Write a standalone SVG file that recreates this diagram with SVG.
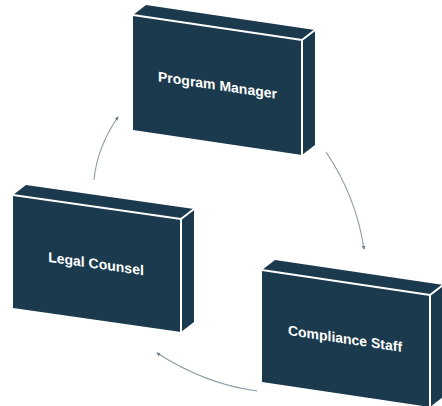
<svg xmlns="http://www.w3.org/2000/svg" width="442" height="406" viewBox="0 0 442 406">
  <defs>
    <style>
      .face { fill: #1b3a4d; }
      .edge { fill: none; stroke: #ffffff; stroke-width: 2; stroke-linejoin: round; }
      .label { font-family: "Liberation Sans", Arial, sans-serif; font-weight: bold; font-size: 14px; fill: #ffffff; text-anchor: middle; dominant-baseline: central; }
      .conn { fill: none; stroke: #8c9aa7; stroke-width: 1.1; marker-end: url(#arrow); }
    </style>
    <marker id="arrow" viewBox="0 0 10 10" refX="8" refY="5" markerWidth="4" markerHeight="4" markerUnits="userSpaceOnUse" orient="auto">
      <path d="M0,0 L10,5 L0,10 z" fill="#6f8091"/>
    </marker>
  </defs>

  <g id="connectors">
    <path class="conn" d="M94,180 Q97,147.5 118,117"/>
    <path class="conn" d="M326,152 Q356,196 364,249"/>
    <path class="conn" d="M257,391 Q205,384 157,353"/>
  </g>

  <g id="program-manager">
    <polygon class="face" points="133,15 146,5 315,30 302,40"/>
    <polygon class="face" points="302,40 315,30 315,145 302,155"/>
    <polygon class="face" points="133,15 302,40 302,155 133,130"/>
    <polyline class="edge" points="133,15 302,40 302,155"/>
    <line class="edge" x1="302" y1="40" x2="315" y2="30"/>
    <text class="label" transform="translate(217.5,85) skewY(8.4)">Program Manager</text>
  </g>

  <g id="legal-counsel">
    <polygon class="face" points="13,195 26,185 194,209 181,219"/>
    <polygon class="face" points="181,219 194,209 194,322 181,332"/>
    <polygon class="face" points="13,195 181,219 181,332 13,308"/>
    <polyline class="edge" points="13,195 181,219 181,332"/>
    <line class="edge" x1="181" y1="219" x2="194" y2="209"/>
    <text class="label" transform="translate(96,263.5) skewY(8.1)">Legal Counsel</text>
  </g>

  <g id="compliance-staff">
    <polygon class="face" points="262,270 275,260 443,285 430,295"/>
    <polygon class="face" points="430,295 443,285 443,397 430,407"/>
    <polygon class="face" points="262,270 430,295 430,407 262,382"/>
    <polyline class="edge" points="262,270 430,295 430,407"/>
    <line class="edge" x1="430" y1="295" x2="443" y2="285"/>
    <text class="label" transform="translate(345,338.5) skewY(8.5)">Compliance Staff</text>
  </g>
</svg>
